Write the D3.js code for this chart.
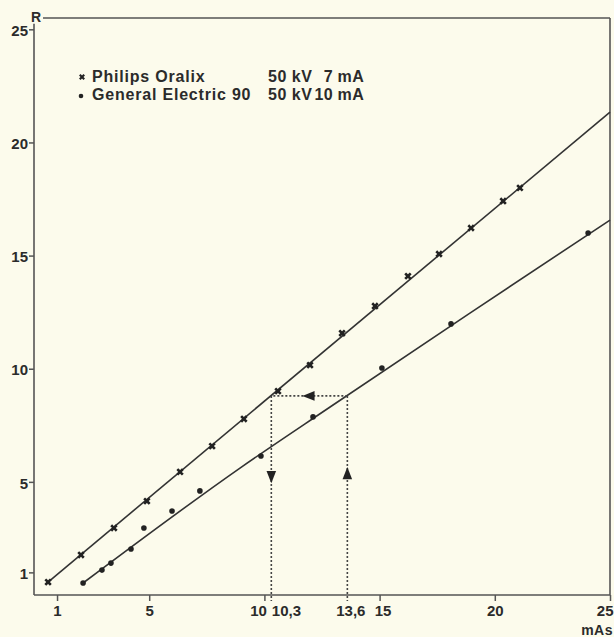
<!DOCTYPE html>
<html>
<head>
    <title>R vs mAs</title>
    <script src="https://d3js.org/d3.v7.min.js"></script>
    <style>
        body { margin: 0; background: #fcfbec; }
        text { font-family: "Liberation Sans", Arial, sans-serif; font-weight: bold; fill: #2b2b2b; }
    </style>
</head>
<body>
    <div id="chart"></div>

    <script>
        // data
        var xTicks = [1, 5, 10, 10.3, 13.6, 15, 20, 25];
        var xTickLabels = ["1", "5", "10", "10,3", "13,6", "15", "20", "25"];
        var yTicks = [1, 5, 10, 15, 20, 25];

        var philipsMAs = [0.61, 2.04, 3.47, 4.90, 6.34, 7.73, 9.11, 10.59, 11.98, 13.37, 14.80, 16.23, 17.58, 18.97, 20.36, 21.09];
        var philipsR   = [0.57, 1.77, 2.96, 4.15, 5.44, 6.58, 7.78, 9.01, 10.16, 11.57, 12.77, 14.09, 15.07, 16.22, 17.41, 17.99];

        var geMAs = [2.13, 2.95, 3.34, 4.21, 4.77, 5.99, 7.20, 9.85, 12.11, 15.10, 18.10, 24.05];
        var geR   = [0.53, 1.10, 1.41, 2.03, 2.96, 3.71, 4.60, 6.14, 7.87, 10.03, 11.98, 16.00];

        // drawn curves through the points
        var philipsFit = [[0.61, 0.57], [25, 21.34]];
        var geFit = [[2.13, 0.53], [8.94, 5.61], [12.85, 8.31], [18.92, 12.46], [25, 16.57]];

        // reading example: 13,6 mAs GE -> R -> 10,3 mAs Philips
        var readMAs = [13.6, 10.3];
        var readR = 8.8;

        var legendNames = ["Philips Oralix", "General Electric 90"];
        var legendKV = ["50 kV", "50 kV"];
        var legendMA = ["7 mA", "10 mA"];

        var width = 614, height = 637;

        var svg = d3.select("#chart")
                    .append("svg")
                    .attr("width", width)
                    .attr("height", height);

        var x = d3.scaleLinear().domain([0, 25]).range([34, 610]);
        var y = d3.scaleLinear().domain([0, 25.5]).range([595, 18]);

        var ink = "#333";

        // frame
        var frame = svg.append("g").attr("stroke", "#555").attr("stroke-width", 1.6).attr("fill", "none");
        frame.append("line").attr("x1", x(0)).attr("x2", x(0)).attr("y1", y(25.25)).attr("y2", y(0));
        frame.append("line").attr("x1", x(0)).attr("x2", x(25)).attr("y1", y(0)).attr("y2", y(0));
        frame.append("line").attr("x1", x(0) + 9).attr("x2", x(25)).attr("y1", y(25.5)).attr("y2", y(25.5));
        frame.append("line").attr("x1", x(25)).attr("x2", x(25)).attr("y1", y(25.5)).attr("y2", y(0));

        // axes
        var xAxis = d3.axisBottom(x)
                      .tickValues(xTicks)
                      .tickSize(6)
                      .tickFormat(function(d, i) { return xTickLabels[i]; });

        var gx = svg.append("g")
           .attr("transform", "translate(0," + y(0) + ")")
           .call(xAxis);
        gx.select(".domain").remove();
        gx.selectAll(".tick line")
          .attr("stroke", "#555")
          .attr("stroke-width", 1.5)
          .attr("display", function(d) { return readMAs.indexOf(d) >= 0 ? "none" : null; });
        gx.selectAll(".tick text")
          .attr("font-size", 15)
          .attr("font-family", null)
          .attr("y", 10)
          .attr("text-anchor", function(d) {
              if (d === 10 || d === 25) return "end";
              if (d === 10.3) return "start";
              return "middle";
          })
          .attr("dx", function(d) {
              if (d === 10) return 2;
              if (d === 10.3) return 0;
              if (d === 25) return 3;
              if (d === 13.6 || d === 15) return 3;
              return 0;
          });

        var yAxis = d3.axisLeft(y).tickValues(yTicks).tickSize(5);
        var gy = svg.append("g")
           .attr("transform", "translate(" + x(0) + ",0)")
           .call(yAxis);
        gy.select(".domain").remove();
        gy.selectAll(".tick line").attr("stroke", "#555").attr("stroke-width", 1.5);
        gy.selectAll(".tick text")
          .attr("font-size", 15)
          .attr("font-family", null)
          .attr("x", -6)
          .attr("dy", "0.55em")
          .attr("y", -2);

        // axis titles
        svg.append("text")
           .attr("x", x(0) + 2)
           .attr("y", 22)
           .attr("text-anchor", "middle")
           .attr("font-size", 14)
           .text("R");

        svg.append("text")
           .attr("x", 613)
           .attr("y", 635)
           .attr("text-anchor", "end")
           .attr("font-size", 14)
           .attr("letter-spacing", 0.5)
           .text("mAs");

        // fitted lines
        var line = d3.line()
                     .x(function(d) { return x(d[0]); })
                     .y(function(d) { return y(d[1]); })
                     .curve(d3.curveMonotoneX);

        svg.append("path")
           .datum(philipsFit)
           .attr("d", line)
           .attr("fill", "none")
           .attr("stroke", ink)
           .attr("stroke-width", 1.6);

        svg.append("path")
           .datum(geFit)
           .attr("d", line)
           .attr("fill", "none")
           .attr("stroke", ink)
           .attr("stroke-width", 1.6);

        // dotted reading lines
        var dots = svg.append("g")
                      .attr("stroke", "#444")
                      .attr("stroke-width", 1.6)
                      .attr("stroke-dasharray", "2,2")
                      .attr("fill", "none");
        dots.append("line")
            .attr("x1", x(readMAs[0])).attr("x2", x(readMAs[1]))
            .attr("y1", y(readR)).attr("y2", y(readR));
        readMAs.forEach(function(m) {
            dots.append("line")
                .attr("x1", x(m)).attr("x2", x(m))
                .attr("y1", y(readR)).attr("y2", y(0) + 6);
        });

        // arrow heads
        var tri = d3.symbol().type(d3.symbolTriangle).size(55);
        var arrows = [
            {m: readMAs[1], r: 5.3, rot: 180},
            {m: readMAs[0], r: 5.3, rot: 0},
            {m: 12.0, r: readR, rot: -90}
        ];
        svg.append("g")
           .selectAll("path")
           .data(arrows)
           .enter()
           .append("path")
           .attr("d", tri)
           .attr("transform", function(d) {
               return "translate(" + x(d.m) + "," + y(d.r) + ") rotate(" + d.rot + ") scale(0.85,1.25)";
           })
           .style("fill", "#222");

        // data points
        var cross = d3.symbol().type(d3.symbolCross).size(34);

        svg.append("g")
           .selectAll("path")
           .data(philipsMAs)
           .enter()
           .append("path")
           .attr("d", cross)
           .attr("transform", function(d, i) {
               return "translate(" + x(d) + "," + y(philipsR[i]) + ") rotate(45)";
           })
           .style("fill", "#222");

        svg.append("g")
           .selectAll("circle")
           .data(geMAs)
           .enter()
           .append("circle")
           .attr("cx", function(d) { return x(d); })
           .attr("cy", function(d, i) { return y(geR[i]); })
           .attr("r", 2.8)
           .style("fill", "#222");

        // legend
        var legend = svg.append("g").attr("font-size", 16);
        var rowY = [82, 100];

        legend.append("path")
              .attr("d", d3.symbol().type(d3.symbolCross).size(22))
              .attr("transform", "translate(82," + (rowY[0] - 5) + ") rotate(45)")
              .style("fill", "#222");
        legend.append("circle")
              .attr("cx", 81).attr("cy", rowY[1] - 4).attr("r", 2.3)
              .style("fill", "#222");

        legendNames.forEach(function(n, i) {
            legend.append("text").attr("x", 92).attr("y", rowY[i])
                  .attr("letter-spacing", 0.8).text(n);
            legend.append("text").attr("x", 268).attr("y", rowY[i])
                  .attr("letter-spacing", 0.5).text(legendKV[i]);
            legend.append("text").attr("x", 364).attr("y", rowY[i])
                  .attr("text-anchor", "end")
                  .attr("letter-spacing", 0.3).text(legendMA[i]);
        });
    </script>
</body>
</html>
